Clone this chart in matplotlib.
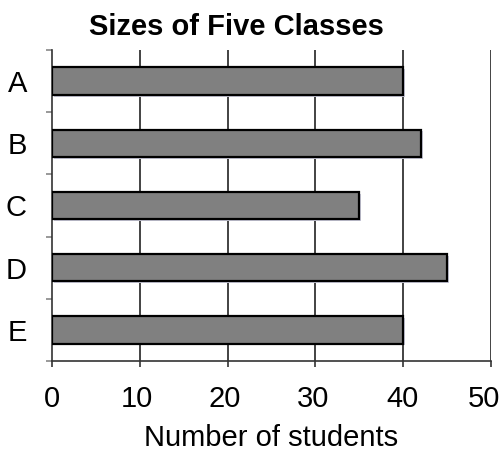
import matplotlib.pyplot as plt
import matplotlib.transforms as mtransforms
import numpy as np

# dados
classes = ["A", "B", "C", "D", "E"]
alunos = [40, 42, 35, 45, 40]
xticks = [0, 10, 20, 30, 40, 50]

plt.rcParams['font.family'] = ['Liberation Sans', 'DejaVu Sans']

fig = plt.figure(figsize=(5.04, 4.53), dpi=100)
ax = fig.add_axes([0.103, 0.203, 0.871, 0.687])

pos = np.arange(len(classes))
# sombra leve atras das barras
ax.barh(pos + 0.03, alunos, height=0.44, left=0.25, color='#c8c8d8', zorder=2)
ax.barh(pos, alunos, height=0.44, color='#808080', edgecolor='black',
        linewidth=1.6, zorder=3)

ax.set_xlim(0, 50)
ax.set_ylim(4.5, -0.5)
ax.set_xticks(xticks)
ax.set_yticks(pos)
ax.set_yticklabels(classes)
ax.set_yticks(np.arange(-0.5, 5, 1), minor=True)

for xv in xticks[1:]:
    ax.axvline(xv, color='#222222', linewidth=1.2, zorder=1)

for s in ['top', 'right']:
    ax.spines[s].set_visible(False)
ax.spines['left'].set_color('#333333')
ax.spines['bottom'].set_color('#333333')
ax.spines['left'].set_linewidth(1.2)
ax.spines['bottom'].set_linewidth(1.2)

ax.tick_params(axis='y', which='major', length=0, pad=18, labelsize=21)
ax.tick_params(axis='y', which='minor', length=4, color='#888888', width=1.2)
ax.tick_params(axis='x', length=4, color='#333333', width=1.2, pad=13, labelsize=21)

# rotulos do eixo x um pouco puxados pra esquerda (o 50 principalmente)
desloc = [0, -3, -3, -2, -1, -7]
for lab, dx in zip(ax.get_xticklabels(), desloc):
    lab.set_transform(lab.get_transform() +
                      mtransforms.ScaledTranslation(dx / 100, 0, fig.dpi_scale_trans))

ax.set_xlabel("Number of students", fontsize=21, labelpad=8)
fig.text(0.47, 0.940, "Sizes of Five Classes", fontsize=21, fontweight='bold',
         ha='center', va='center')

fig.savefig("out.png", dpi=100)
